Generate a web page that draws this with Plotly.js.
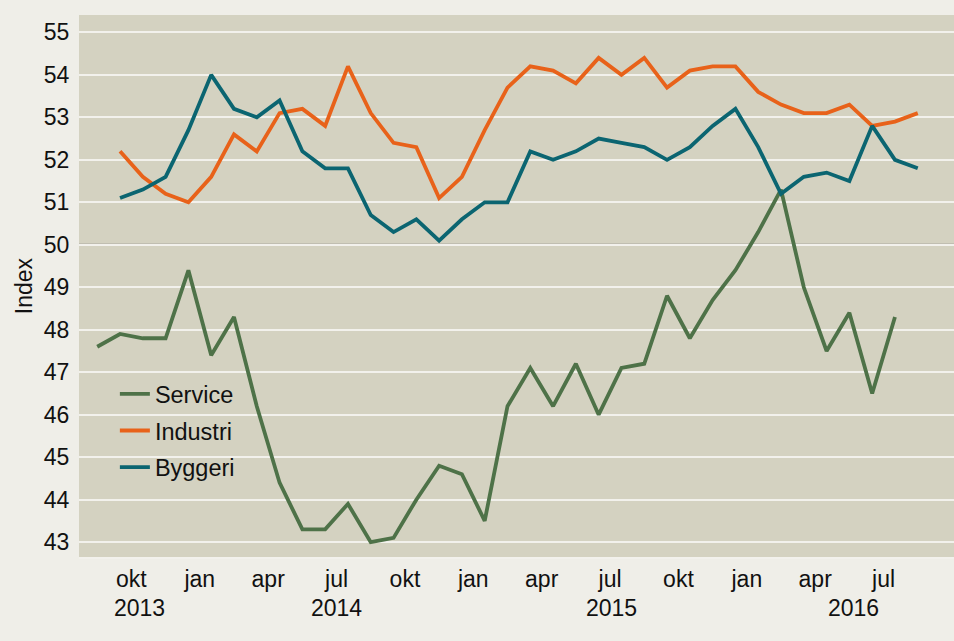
<!DOCTYPE html>
<html>
<head>
<meta charset="utf-8">
<script src="https://cdn.plot.ly/plotly-3.0.1.min.js"></script>
<style>html,body{margin:0;padding:0;background:#efeee8;}#chart{width:954px;height:641px;}</style>
</head>
<body>
<div id="chart"></div>
<script>
// Months (Sep 2013 – Sep 2016)
const months = ["2013-09","2013-10","2013-11","2013-12","2014-01","2014-02","2014-03","2014-04","2014-05","2014-06","2014-07","2014-08","2014-09","2014-10","2014-11","2014-12","2015-01","2015-02","2015-03","2015-04","2015-05","2015-06","2015-07","2015-08","2015-09","2015-10","2015-11","2015-12","2016-01","2016-02","2016-03","2016-04","2016-05","2016-06","2016-07","2016-08","2016-09"];

const service = [47.6,47.9,47.8,47.8,49.4,47.4,48.3,46.2,44.4,43.3,43.3,43.9,43.0,43.1,44.0,44.8,44.6,43.5,46.2,47.1,46.2,47.2,46.0,47.1,47.2,48.8,47.8,48.7,49.4,50.3,51.3,49.0,47.5,48.4,46.5,48.3,null];
const industri = [null,52.2,51.6,51.2,51.0,51.6,52.6,52.2,53.1,53.2,52.8,54.2,53.1,52.4,52.3,51.1,51.6,52.7,53.7,54.2,54.1,53.8,54.4,54.0,54.4,53.7,54.1,54.2,54.2,53.6,53.3,53.1,53.1,53.3,52.8,52.9,53.1];
const byggeri = [null,51.1,51.3,51.6,52.7,54.0,53.2,53.0,53.4,52.2,51.8,51.8,50.7,50.3,50.6,50.1,50.6,51.0,51.0,52.2,52.0,52.2,52.5,52.4,52.3,52.0,52.3,52.8,53.2,52.3,51.2,51.6,51.7,51.5,52.8,52.0,51.8];

const monthNames = {"01":"jan","04":"apr","07":"jul","10":"okt"};
const yearLabels = ["2013","2014","2015","2016"];
const yearPos = [1.87, 10.5, 22.56, 33.2];

const xIdx = months.map((m, i) => i);
const tickVals = [], tickText = [];
months.forEach((m, i) => {
  const mm = m.slice(5);
  if (monthNames[mm] && i < 36) { tickVals.push(i + 0.5); tickText.push(monthNames[mm]); }
});

const font = "Liberation Sans, Arial, sans-serif";
const txt = "#111";
const traces = [
  {x: xIdx, y: service, name: "Service", type: "scatter", mode: "lines", line: {color: "#4e7248", width: 3.8}, legendgroup: "a"},
  {x: xIdx, y: industri, name: "Industri", type: "scatter", mode: "lines", line: {color: "#e8621a", width: 3.8}, legendgroup: "b"},
  {x: xIdx, y: byggeri, name: "Byggeri", type: "scatter", mode: "lines", line: {color: "#0b6571", width: 3.8}, legendgroup: "c"}
];

const layout = {
  width: 954, height: 641,
  margin: {l: 79, r: 0, t: 15, b: 84},
  paper_bgcolor: "#efeee8",
  plot_bgcolor: "#d4d2c1",
  font: {family: font, color: txt, size: 23},
  showlegend: true,
  legend: {x: 0.041, y: 0.341, xanchor: "left", yanchor: "top", bgcolor: "rgba(0,0,0,0)", font: {size: 23.5, color: txt}, tracegroupgap: 3},
  xaxis: {
    range: [-0.8, 37.59], showgrid: false, zeroline: false,
    tickvals: tickVals, ticktext: tickText,
    ticks: "outside", ticklen: 0, tickcolor: "rgba(0,0,0,0)",
    showline: true, linecolor: "#f2f1ec", linewidth: 2,
    tickfont: {size: 23, color: txt}
  },
  yaxis: {
    range: [42.65, 55.41], dtick: 1, tick0: 43,
    showgrid: true, gridcolor: "#f2f1ec", gridwidth: 2, zeroline: false,
    ticks: "outside", ticklen: 4, tickcolor: "rgba(0,0,0,0)",
    tickfont: {size: 23, color: txt},
    title: {text: "Index", font: {size: 23, color: txt}, standoff: 4}
  },
  shapes: [{type: "line", xref: "paper", yref: "y", x0: 0, x1: 1, y0: 50, y1: 50, line: {color: "#858585", width: 2}, layer: "below"}],
  annotations: yearLabels.map((t, i) => ({x: yearPos[i], y: -0.095, xref: "x", yref: "paper", text: t, showarrow: false, xanchor: "center", yanchor: "middle", font: {size: 23, color: txt}}))
};

Plotly.newPlot("chart", traces, layout, {displayModeBar: false, staticPlot: true});
</script>
</body>
</html>
